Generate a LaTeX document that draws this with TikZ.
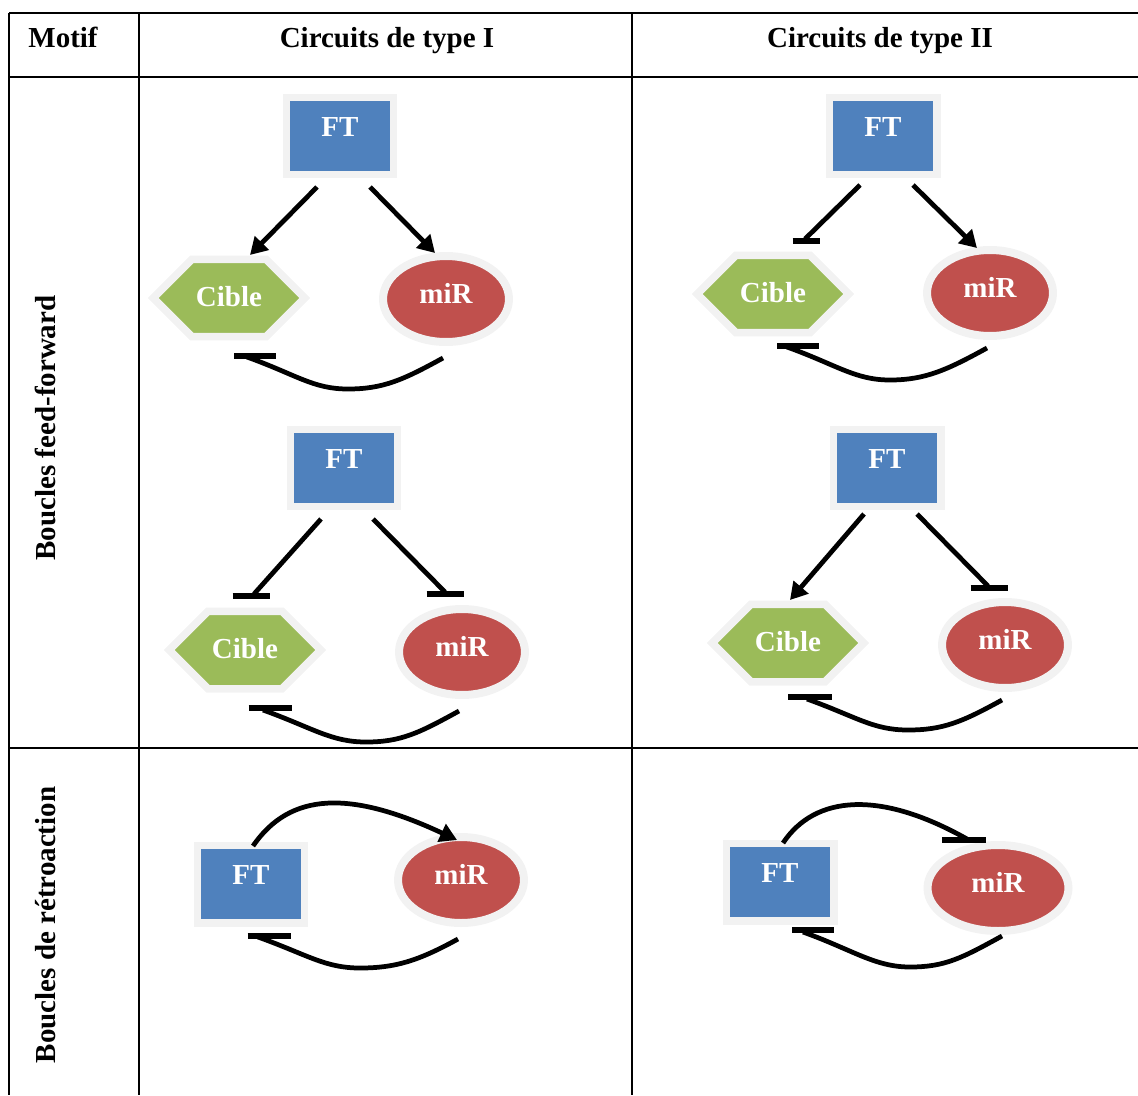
\documentclass[tikz,border=0pt]{standalone}
\usepackage{fontspec}
\setmainfont{Liberation Serif}
\usetikzlibrary{shapes.geometric,shapes.symbols,arrows.meta,calc}
\definecolor{ftblue}{HTML}{4F81BD}
\definecolor{cibgreen}{HTML}{9BBB59}
\definecolor{mirred}{HTML}{C0504D}
\definecolor{halo}{HTML}{F2F2F2}
\begin{document}
\begin{tikzpicture}[x=0.02cm,y=-0.02cm,
  every node/.style={font=\fontsize{16.5}{19}\selectfont\bfseries},
  grid/.style={line width=1.1pt},
  ft/.style={rectangle,fill=ftblue,draw=halo,line width=0.15cm,minimum width=2.15cm,
    minimum height=1.55cm,inner sep=0pt,text=white,text height=11pt,text depth=10pt},
  cible/.style={signal,signal to=west and east,signal pointer angle=90,fill=cibgreen,
    draw=halo,line width=0.15cm,minimum width=3.03cm,minimum height=1.55cm,inner sep=0pt,
    text=white,text height=11pt,text depth=1.5pt},
  mir/.style={ellipse,fill=mirred,draw=halo,line width=0.16cm,minimum width=2.52cm,
    minimum height=1.72cm,inner sep=0pt,text=white,text height=11pt,text depth=5.4pt},
  link/.style={line width=0.095cm},
  act/.style={link,-{Triangle[length=0.34cm,width=0.38cm]}},
  tbar/.style={line width=0.13cm}]
  \useasboundingbox (0,0) rectangle (1138,1095);

  \draw[grid] (9,13) -- (1138,13) ;
  \draw[grid] (9,77) -- (1138,77) ;
  \draw[grid] (9,748) -- (1138,748) ;
  \draw[grid] (9,13) -- (9,1095) ;
  \draw[grid] (139,13) -- (139,1095) ;
  \draw[grid] (632,13) -- (632,1095) ;
  \node[anchor=base] (motif) at (63,48) {Motif};
  \node[anchor=base] (typeI) at (387,48) {Circuits de type I};
  \node[anchor=base] (typeII) at (880,48) {Circuits de type II};
  \node[rotate=90,anchor=base] (ffwd) at (55,428) {Boucles feed-forward};
  \node[rotate=90,anchor=base] (retro) at (55,925) {Boucles de rétroaction};

  \node[ft] (ftA) at (340,136) {FT};
  \node[cible] (cibA) at (229,298) {Cible};
  \node[mir] (mirA) at (446,299) {miR};
  \draw[act] ($(ftA.center)+(-23,51)$) -- ($(cibA.center)+(21,-43)$) ;
  \draw[act] ($(ftA.center)+(30,51)$) -- ($(mirA.center)+(-11,-46)$) ;
  \coordinate (barA) at ($(cibA.center)+(26,58)$) ;
  \draw[link] ($(mirA.center)+(-3,59)$) .. controls +(-40,22) and +(35,0) .. ++(-95,31)
    .. controls +(-35,0) and +(50,18) .. ($(barA)+(-8,1)$) ;
  \draw[tbar] ($(barA)+(-21,0)$) -- ($(barA)+(21,0)$) ;

  \node[ft] (ftB) at (883,136) {FT};
  \node[cible] (cibB) at (773,294) {Cible};
  \node[mir] (mirB) at (990,293) {miR};
  \coordinate (barB1) at ($(cibB.center)+(33,-53)$) ;
  \draw[link] ($(ftB.center)+(-23,49)$) -- ($(barB1)+(-1,-2)$) ;
  \draw[tbar] ($(barB1)+(-13.5,0)$) -- ($(barB1)+(13.5,0)$) ;
  \draw[act] ($(ftB.center)+(30,49)$) -- ($(mirB.center)+(-13,-45)$) ;
  \coordinate (barB2) at ($(cibB.center)+(25,52)$) ;
  \draw[link] ($(mirB.center)+(-3,55)$) .. controls +(-40,22) and +(35,0) .. ++(-97,32)
    .. controls +(-35,0) and +(50,18) .. ($(barB2)+(-11,1)$) ;
  \draw[tbar] ($(barB2)+(-21,0)$) -- ($(barB2)+(21,0)$) ;

  \node[ft] (ftC) at (344,468) {FT};
  \node[cible] (cibC) at (245,650) {Cible};
  \node[mir] (mirC) at (462,652) {miR};
  \coordinate (barC1) at ($(cibC.center)+(6,-54)$) ;
  \draw[link] ($(ftC.center)+(-23,51)$) -- ($(barC1)+(3,-2)$) ;
  \draw[tbar] ($(barC1)+(-18.5,0)$) -- ($(barC1)+(18.5,0)$) ;
  \coordinate (barC2) at ($(mirC.center)+(-17,-58)$) ;
  \draw[link] ($(ftC.center)+(29,51)$) -- ($(barC2)+(0,-2)$) ;
  \draw[tbar] ($(barC2)+(-18.5,0)$) -- ($(barC2)+(18.5,0)$) ;
  \coordinate (barC3) at ($(cibC.center)+(25,58)$) ;
  \draw[link] ($(mirC.center)+(-3,59)$) .. controls +(-40,22) and +(35,0) .. ++(-93,31)
    .. controls +(-35,0) and +(50,18) .. ($(barC3)+(-7,2)$) ;
  \draw[tbar] ($(barC3)+(-21.5,0)$) -- ($(barC3)+(21.5,0)$) ;

  \node[ft] (ftD) at (887,468) {FT};
  \node[cible] (cibD) at (788,643) {Cible};
  \node[mir] (mirD) at (1005,645) {miR};
  \draw[act] ($(ftD.center)+(-23,46)$) -- ($(cibD.center)+(2,-43)$) ;
  \coordinate (barD1) at ($(mirD.center)+(-16,-57)$) ;
  \draw[link] ($(ftD.center)+(30,46)$) -- ($(barD1)+(-1,-2)$) ;
  \draw[tbar] ($(barD1)+(-18.5,0)$) -- ($(barD1)+(18.5,0)$) ;
  \coordinate (barD2) at ($(cibD.center)+(22,54)$) ;
  \draw[link] ($(mirD.center)+(-3,55)$) .. controls +(-40,22) and +(35,0) .. ++(-94,30)
    .. controls +(-35,0) and +(50,18) .. ($(barD2)+(-3,2)$) ;
  \draw[tbar] ($(barD2)+(-22,0)$) -- ($(barD2)+(22,0)$) ;

  \node[ft] (ftE) at (251,884) {FT};
  \node[mir] (mirE) at (461,880) {miR};
  \draw[act] ($(ftE.center)+(2,-38)$) .. controls +(37,-54) and +(-107,-50) .. ($(mirE.center)+(-4,-40)$) ;
  \coordinate (barE) at ($(ftE.center)+(18,52)$) ;
  \draw[link] ($(mirE.center)+(-3,59)$) .. controls +(-40,22) and +(35,0) .. ++(-98,29)
    .. controls +(-35,0) and +(50,18) .. ($(barE)+(-11,1)$) ;
  \draw[tbar] ($(barE)+(-21.5,0)$) -- ($(barE)+(21.5,0)$) ;

  \node[ft] (ftF) at (780,882) {FT};
  \node[mir,minimum width=2.82cm] (mirF) at (998,888) {miR};
  \coordinate (barF1) at ($(mirF.center)+(-34,-48)$) ;
  \draw[link] ($(ftF.center)+(3,-39)$) .. controls +(32,-48) and +(-87,-49) .. ($(barF1)+(3,-1)$) ;
  \draw[tbar] ($(barF1)+(-22,0)$) -- ($(barF1)+(22,0)$) ;
  \coordinate (barF2) at ($(ftF.center)+(33,48)$) ;
  \draw[link] ($(mirF.center)+(4,48)$) .. controls +(-40,22) and +(35,0) .. ++(-92,31)
    .. controls +(-35,0) and +(50,18) .. ($(barF2)+(-10,2)$) ;
  \draw[tbar] ($(barF2)+(-21,0)$) -- ($(barF2)+(21,0)$) ;
\end{tikzpicture}
\end{document}
